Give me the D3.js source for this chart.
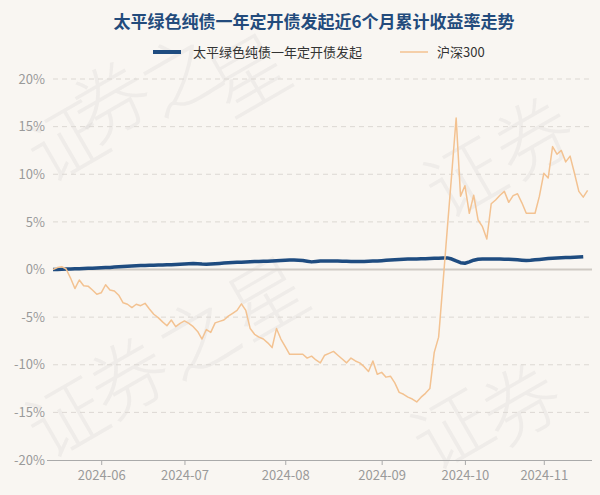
<!DOCTYPE html>
<html>
<head>
<meta charset="utf-8">
<script src="https://cdn.jsdelivr.net/npm/d3@7/dist/d3.min.js"></script>
<style>
  html, body { margin: 0; padding: 0; background: #f9f6f2; }
  svg { display: block; font-family: "Noto Sans CJK SC", "Noto Sans", sans-serif; }
</style>
</head>
<body>
<svg id="chart" width="600" height="495"></svg>
<script>
const titleText = "太平绿色纯债一年定开债发起近6个月累计收益率走势";
const seriesNames = ["太平绿色纯债一年定开债发起", "沪深300"];

const dates = [
  "2024-05-17","2024-05-20","2024-05-21","2024-05-22","2024-05-23","2024-05-24","2024-05-27","2024-05-28","2024-05-29","2024-05-30","2024-05-31",
  "2024-06-03","2024-06-04","2024-06-05","2024-06-06","2024-06-07","2024-06-11","2024-06-12","2024-06-13","2024-06-14","2024-06-17","2024-06-18","2024-06-19","2024-06-20","2024-06-21","2024-06-24","2024-06-25","2024-06-26","2024-06-27","2024-06-28",
  "2024-07-01","2024-07-02","2024-07-03","2024-07-04","2024-07-05","2024-07-08","2024-07-09","2024-07-10","2024-07-11","2024-07-12","2024-07-15","2024-07-16","2024-07-17","2024-07-18","2024-07-19","2024-07-22","2024-07-23","2024-07-24","2024-07-25","2024-07-26","2024-07-29","2024-07-30","2024-07-31",
  "2024-08-01","2024-08-02","2024-08-05","2024-08-06","2024-08-07","2024-08-08","2024-08-09","2024-08-12","2024-08-13","2024-08-14","2024-08-15","2024-08-16","2024-08-19","2024-08-20","2024-08-21","2024-08-22","2024-08-23","2024-08-26","2024-08-27","2024-08-28","2024-08-29","2024-08-30",
  "2024-09-02","2024-09-03","2024-09-04","2024-09-05","2024-09-06","2024-09-09","2024-09-10","2024-09-11","2024-09-12","2024-09-13","2024-09-18","2024-09-19","2024-09-20","2024-09-23","2024-09-24","2024-09-25","2024-09-26","2024-09-27","2024-09-30",
  "2024-10-08","2024-10-09","2024-10-10","2024-10-11","2024-10-14","2024-10-15","2024-10-16","2024-10-17","2024-10-18","2024-10-21","2024-10-22","2024-10-23","2024-10-24","2024-10-25","2024-10-28","2024-10-29","2024-10-30","2024-10-31",
  "2024-11-01","2024-11-04","2024-11-05","2024-11-06","2024-11-07","2024-11-08","2024-11-11","2024-11-12","2024-11-13","2024-11-14","2024-11-15","2024-11-18"
];

// cumulative return (%) of the fund
const fundValues = [
  0.00,0.01,0.03,0.04,0.05,0.07,0.08,0.10,0.12,0.14,0.16,
  0.18,0.20,0.22,0.25,0.28,0.31,0.34,0.37,0.39,0.41,0.42,0.44,0.45,0.46,0.47,0.49,0.51,0.53,0.55,
  0.57,0.60,0.63,0.60,0.57,0.56,0.58,0.61,0.64,0.67,0.70,0.73,0.75,0.77,0.79,0.81,0.83,0.85,0.86,0.87,0.89,0.92,0.95,
  0.98,1.00,0.99,0.97,0.94,0.87,0.80,0.85,0.89,0.90,0.90,0.89,0.88,0.87,0.86,0.85,0.84,0.84,0.84,0.86,
  0.88,0.90,0.93,0.96,0.99,1.02,1.05,1.08,1.09,1.10,1.11,1.12,1.13,1.15,1.17,1.19,1.21,1.22,1.10,
  0.90,0.72,0.66,0.80,0.98,1.08,1.10,1.11,1.11,1.10,1.09,1.08,1.08,1.06,1.02,0.98,0.95,0.97,
  1.02,1.06,1.10,1.15,1.19,1.21,1.23,1.25,1.27,1.28,1.30,1.33
];

// cumulative return (%) of CSI 300
const hs300Values = [
  0.00,0.20,0.30,0.05,-0.90,-2.00,-1.10,-1.70,-1.75,-2.15,-2.60,
  -2.45,-1.60,-2.15,-2.25,-2.70,-3.50,-3.65,-4.00,-3.65,-3.80,-3.55,-4.15,-4.70,-5.05,-5.50,-5.90,-5.30,-6.00,-5.65,
  -5.40,-5.65,-6.00,-6.50,-7.30,-6.30,-6.60,-5.60,-5.45,-5.30,-4.90,-4.60,-4.30,-3.60,-4.30,-6.20,-6.80,-7.10,-7.30,-7.70,-8.20,-6.20,-7.30,
  -8.10,-8.90,-8.90,-8.90,-8.90,-9.30,-9.10,-9.50,-9.80,-9.00,-8.80,-8.60,-9.00,-9.40,-9.80,-9.30,-9.60,-9.80,-10.20,-10.70,-9.60,-11.00,
  -10.80,-11.30,-11.20,-11.90,-12.90,-13.10,-13.40,-13.60,-13.90,-13.40,-13.00,-12.50,-8.70,-7.10,-1.40,4.40,10.10,15.90,7.70,
  8.80,5.90,7.80,5.20,4.50,3.20,6.90,7.30,7.80,8.20,7.05,7.75,7.95,7.00,5.90,5.90,5.90,7.70,
  10.10,9.60,12.90,12.10,12.50,11.30,11.90,10.10,8.20,7.60,8.30
];

const yTicks = [-20, -15, -10, -5, 0, 5, 10, 15, 20];
const xTickDates = ["2024-06-03","2024-07-01","2024-08-01","2024-09-02","2024-10-08","2024-11-01"];
const xTickLabels = ["2024-06","2024-07","2024-08","2024-09","2024-10","2024-11"];
const watermarkChars = ["证", "券", "之", "星"];

const svg = d3.select("#chart");
const W = 600, H = 495;
const plotLeft = 53, plotRight = 592, plotTop = 79, plotBottom = 460;

svg.append("rect").attr("width", W).attr("height", H).attr("fill", "#f9f6f2");

// watermark: one text per character, nudged to stay inside the picture
const wm = svg.append("g").attr("fill", "#8c8c8c").attr("fill-opacity", 0.09)
  .style("font-size", "78px").style("font-weight", "300");
const wmRows = [[22, 186], [40, 462], [445, 222], [432, 488]];
const wmCount = [4, 4, 2, 2];
wmRows.forEach(([wx, wy], row) => {
  watermarkChars.slice(0, wmCount[row]).forEach((ch, k) => {
    let cx = wx + k * 80 * Math.cos(Math.PI / 6);
    let cy = wy - k * 80 * Math.sin(Math.PI / 6);
    const t = wm.append("text").attr("transform", `translate(${cx},${cy}) rotate(-30)`).text(ch);
    const b = t.node().getBBox();
    // corners of rotated glyph box
    const a = -Math.PI / 6;
    const pts = [[b.x, b.y], [b.x + b.width, b.y], [b.x, b.y + b.height], [b.x + b.width, b.y + b.height]]
      .map(([px, py]) => [cx + px * Math.cos(a) - py * Math.sin(a), cy + px * Math.sin(a) + py * Math.cos(a)]);
    const minX = d3.min(pts, p => p[0]), maxX = d3.max(pts, p => p[0]);
    const minY = d3.min(pts, p => p[1]), maxY = d3.max(pts, p => p[1]);
    if (minX < 2) cx += 2 - minX;
    if (maxX > W - 2) cx -= maxX - (W - 2);
    if (minY < 2) cy += 2 - minY;
    if (maxY > H - 2) cy -= maxY - (H - 2);
    t.attr("transform", `translate(${cx},${cy}) rotate(-30)`);
  });
});

const x = d3.scalePoint().domain(dates).range([plotLeft, plotRight]);
const y = d3.scaleLinear().domain([-20, 20]).range([plotBottom, plotTop]);

// grid
const grid = svg.append("g");
yTicks.forEach(t => {
  if (t === -20) return;
  grid.append("line")
    .attr("x1", plotLeft).attr("x2", plotRight)
    .attr("y1", y(t)).attr("y2", y(t))
    .attr("stroke", t === 0 ? "#cfcac4" : "#dcd8d3")
    .attr("stroke-width", t === 0 ? 2 : 1)
    .attr("stroke-dasharray", t === 0 ? null : "5,4");
});

// y axis
const yAxis = svg.append("g").attr("transform", `translate(${plotLeft},0)`)
  .call(d3.axisLeft(y).tickValues(yTicks).tickFormat(d => d + "%").tickSize(0).tickPadding(8));
yAxis.select(".domain").remove();
yAxis.selectAll("text").attr("fill", "#9a9a9a").style("font-size", "13px")
  .style("font-family", "\"Noto Sans CJK SC\", sans-serif");

// x axis
const xAxis = svg.append("g").attr("transform", `translate(0,${plotBottom})`)
  .call(d3.axisBottom(x).tickValues(xTickDates)
    .tickFormat((d, i) => xTickLabels[i]).tickSize(5).tickSizeOuter(0).tickPadding(6));
xAxis.select(".domain").attr("stroke", "#aaaaaa").attr("d", `M${plotLeft - 6},0.5H${plotRight}`);
xAxis.selectAll(".tick line").attr("stroke", "#aaaaaa");
xAxis.selectAll("text").attr("fill", "#9a9a9a").style("font-size", "13px")
  .style("font-family", "\"Noto Sans CJK SC\", sans-serif");

// lines
const line = d3.line()
  .defined(d => d.v != null)
  .x(d => x(d.date))
  .y(d => y(d.v));

const fundData = fundValues.map((v, i) => ({ date: dates[i], v }));
const hsData = hs300Values.map((v, i) => ({ date: dates[i], v }));

svg.append("path").datum(fundData)
  .attr("fill", "none").attr("stroke", "#1f4c80").attr("stroke-width", 3.5)
  .attr("stroke-linejoin", "round").attr("d", line);

svg.append("path").datum(hsData)
  .attr("fill", "none").attr("stroke", "#f3c291").attr("stroke-width", 1.5)
  .attr("stroke-linejoin", "round").attr("d", line);

// title
svg.append("text").attr("x", 314).attr("y", 28).attr("text-anchor", "middle")
  .attr("fill", "#234b7c").style("font-size", "17px").style("font-weight", "bold")
  .text(titleText);

// legend
const lg = svg.append("g").style("font-size", "13px");
lg.append("line").attr("x1", 153).attr("x2", 181).attr("y1", 52).attr("y2", 52)
  .attr("stroke", "#1f4c80").attr("stroke-width", 4);
lg.append("text").attr("x", 193).attr("y", 57).attr("fill", "#333").text(seriesNames[0]);
lg.append("line").attr("x1", 400).attr("x2", 428).attr("y1", 52).attr("y2", 52)
  .attr("stroke", "#f3c291").attr("stroke-width", 1.5);
lg.append("text").attr("x", 437).attr("y", 57).attr("fill", "#333").text(seriesNames[1]);
</script>
</body>
</html>
